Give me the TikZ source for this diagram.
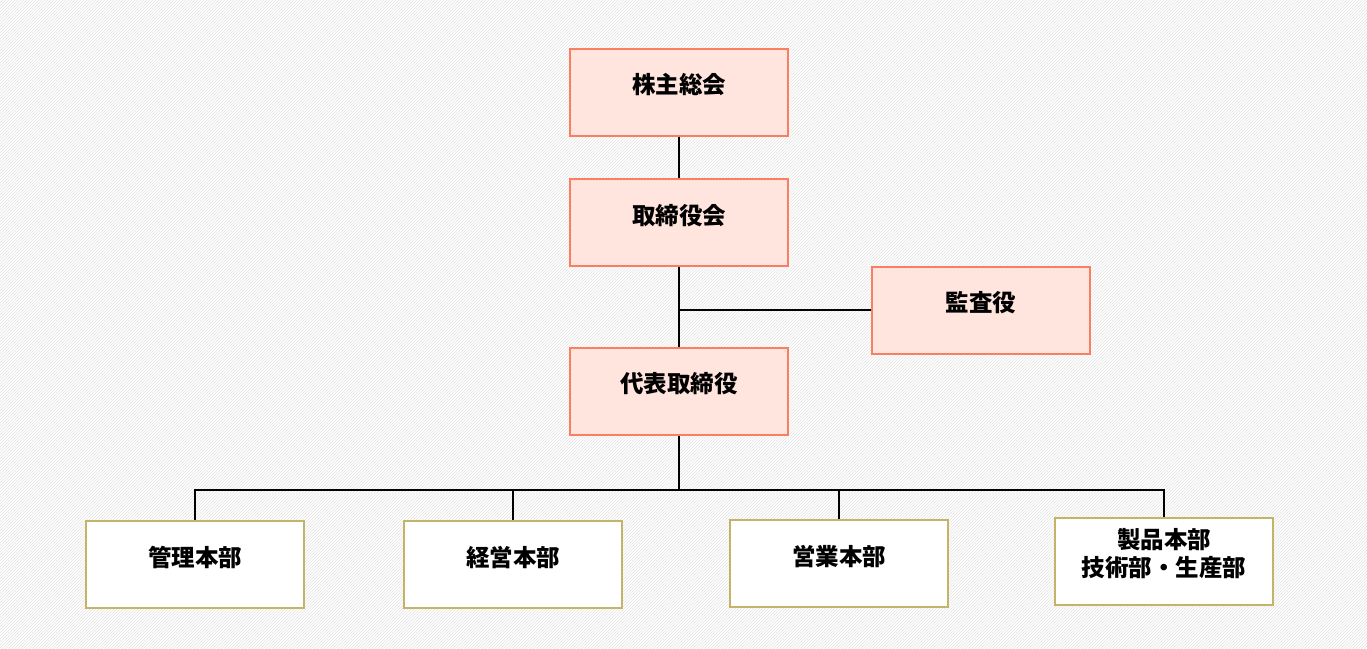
\documentclass[tikz,border=0pt]{standalone}
\usepackage{fontspec}
\newfontfamily\cjk{Noto Sans CJK JP}
\usetikzlibrary{patterns}
\definecolor{topfill}{HTML}{FFE5DE}
\definecolor{topdraw}{HTML}{F97E62}
\definecolor{botdraw}{HTML}{C4B468}
\definecolor{stripe}{HTML}{E4E4E4}
\tikzset{
  topbox/.style={draw=topdraw, fill=topfill, line width=2pt, minimum width=218pt, minimum height=87pt, inner sep=0pt},
  botbox/.style={draw=botdraw, fill=white, line width=2pt, minimum width=218pt, minimum height=87pt, inner sep=0pt},
  lbl/.style={font=\cjk\bfseries\fontsize{23.5pt}{28pt}\selectfont, align=center, inner sep=0pt},
  conn/.style={line width=2pt, black}
}
\begin{document}
\begin{tikzpicture}[x=1pt,y=-1pt]
\useasboundingbox (0,0) rectangle (1367,648);
\fill[white] (0,0) rectangle (1367,648);
\fill[pattern=north east lines, pattern color=stripe] (0,0) rectangle (1367,648);

\node[topbox] (agm) at (679,92) {};
\node[topbox] (board) at (679,222.5) {};
\node[topbox] (audit) at (981,310) {};
\node[topbox] (ceo) at (679,391.5) {};
\node[botbox] (adm) at (195,564) {};
\node[botbox] (mgmt) at (513,564.5) {};
\node[botbox] (sales) at (839,563.5) {};
\node[botbox] (prod) at (1164,561.5) {};

\node[lbl] (tagm) at ([yshift=7pt]agm.center) {株主総会};
\node[lbl] (tboard) at ([yshift=7pt]board.center) {取締役会};
\node[lbl] (taudit) at ([yshift=7pt]audit.center) {監査役};
\node[lbl] (tceo) at ([yshift=8pt]ceo.center) {代表取締役};
\node[lbl] (tadm) at ([yshift=7pt]adm.center) {管理本部};
\node[lbl] (tmgmt) at ([yshift=7pt]mgmt.center) {経営本部};
\node[lbl] (tsales) at ([yshift=7pt]sales.center) {営業本部};
\node[lbl] (tprod) at ([yshift=7.5pt]prod.center) {製品本部\\技術部・生産部};

\coordinate (j1) at (679,310);
\coordinate (j2) at (679,490);
\draw[conn] (agm.south) -- (board.north);
\draw[conn] (board.south) -- (ceo.north);
\draw[conn] (j1) -- (audit.west);
\draw[conn] (ceo.south) -- (j2);
\draw[conn] (adm.north) |- (j2);
\draw[conn] (prod.north) |- (j2);
\draw[conn] (mgmt.north) -- (mgmt.north |- j2);
\draw[conn] (sales.north) -- (sales.north |- j2);
\end{tikzpicture}
\end{document}
